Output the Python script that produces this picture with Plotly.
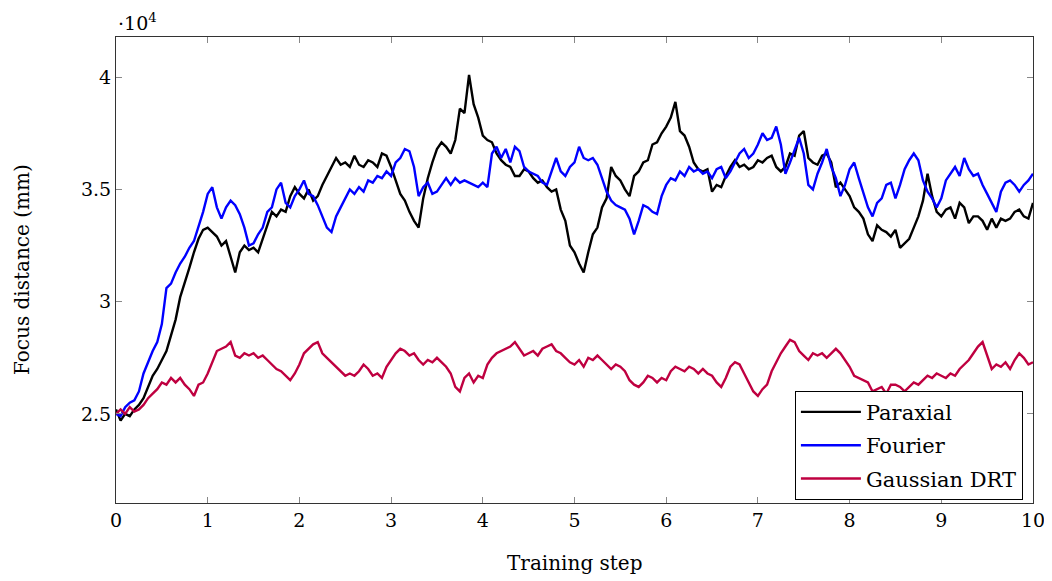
import numpy as np
import plotly.graph_objects as go

steps = [round(i * 0.05, 2) for i in range(201)]

paraxial = [2.52,2.47,2.50,2.49,2.52,2.54,2.57,2.62,2.67,2.70,2.74,2.78,2.85,2.92,3.02,3.08,3.15,3.22,3.28,3.32,
            3.33,3.31,3.29,3.25,3.27,3.20,3.13,3.22,3.25,3.23,3.24,3.22,3.28,3.33,3.40,3.38,3.41,3.40,3.47,3.51,
            3.48,3.46,3.50,3.45,3.47,3.52,3.56,3.60,3.64,3.61,3.62,3.60,3.65,3.61,3.60,3.63,3.62,3.60,3.66,3.65,
            3.60,3.54,3.48,3.45,3.40,3.36,3.33,3.46,3.55,3.62,3.68,3.71,3.69,3.66,3.72,3.86,3.84,4.01,3.88,3.82,
            3.74,3.72,3.71,3.66,3.63,3.61,3.60,3.56,3.56,3.59,3.58,3.55,3.53,3.54,3.51,3.49,3.50,3.41,3.36,3.25,
            3.22,3.17,3.13,3.22,3.30,3.33,3.42,3.46,3.60,3.56,3.54,3.50,3.47,3.56,3.58,3.62,3.63,3.70,3.71,3.75,
            3.78,3.82,3.89,3.76,3.74,3.69,3.62,3.59,3.58,3.59,3.49,3.52,3.51,3.56,3.60,3.63,3.60,3.61,3.59,3.60,
            3.63,3.62,3.64,3.65,3.60,3.58,3.60,3.66,3.65,3.74,3.76,3.64,3.62,3.61,3.65,3.66,3.62,3.51,3.53,3.50,
            3.47,3.42,3.40,3.37,3.30,3.27,3.34,3.32,3.31,3.29,3.32,3.24,3.26,3.28,3.33,3.38,3.45,3.57,3.47,3.40,
            3.38,3.41,3.42,3.37,3.44,3.42,3.35,3.38,3.38,3.36,3.32,3.37,3.33,3.37,3.36,3.37,3.40,3.41,3.38,3.37,
            3.44]

fourier = [2.50,2.49,2.53,2.55,2.56,2.60,2.68,2.73,2.78,2.82,2.90,3.06,3.08,3.13,3.17,3.20,3.24,3.27,3.33,3.40,
           3.48,3.51,3.42,3.37,3.42,3.45,3.43,3.39,3.33,3.25,3.26,3.30,3.33,3.40,3.42,3.50,3.53,3.44,3.42,3.47,
           3.50,3.54,3.48,3.47,3.43,3.38,3.33,3.31,3.38,3.42,3.46,3.50,3.48,3.51,3.49,3.54,3.53,3.56,3.55,3.58,
           3.56,3.62,3.64,3.68,3.67,3.60,3.47,3.51,3.53,3.48,3.49,3.52,3.55,3.52,3.55,3.53,3.54,3.53,3.52,3.51,
           3.53,3.51,3.66,3.69,3.64,3.68,3.62,3.69,3.67,3.60,3.58,3.57,3.56,3.53,3.52,3.58,3.64,3.58,3.56,3.60,
           3.62,3.69,3.64,3.63,3.64,3.61,3.55,3.49,3.45,3.43,3.42,3.41,3.37,3.30,3.36,3.43,3.42,3.40,3.39,3.47,
           3.52,3.55,3.54,3.58,3.56,3.60,3.58,3.59,3.57,3.58,3.55,3.59,3.60,3.55,3.58,3.62,3.66,3.68,3.64,3.66,
           3.70,3.75,3.72,3.73,3.78,3.70,3.57,3.62,3.68,3.73,3.66,3.52,3.50,3.57,3.62,3.68,3.60,3.55,3.47,3.52,
           3.59,3.62,3.55,3.49,3.42,3.38,3.44,3.46,3.52,3.53,3.46,3.52,3.59,3.63,3.66,3.63,3.54,3.49,3.46,3.42,
           3.46,3.54,3.57,3.60,3.56,3.64,3.59,3.56,3.57,3.52,3.48,3.44,3.40,3.49,3.53,3.54,3.52,3.49,3.52,3.54,
           3.57]

gaussian_drt = [2.50,2.52,2.50,2.53,2.51,2.52,2.54,2.57,2.59,2.61,2.64,2.63,2.66,2.64,2.66,2.63,2.61,2.58,2.63,2.64,
                2.68,2.73,2.78,2.79,2.80,2.82,2.76,2.75,2.77,2.76,2.77,2.75,2.76,2.74,2.72,2.70,2.69,2.67,2.65,2.68,
                2.72,2.77,2.79,2.81,2.82,2.77,2.75,2.73,2.71,2.69,2.67,2.68,2.67,2.69,2.72,2.70,2.67,2.68,2.66,2.71,
                2.74,2.77,2.79,2.78,2.76,2.77,2.74,2.72,2.74,2.73,2.75,2.73,2.71,2.68,2.62,2.60,2.66,2.68,2.64,2.67,
                2.66,2.72,2.75,2.77,2.78,2.79,2.80,2.82,2.79,2.76,2.77,2.78,2.76,2.79,2.80,2.81,2.78,2.77,2.75,2.73,
                2.72,2.74,2.71,2.75,2.74,2.76,2.74,2.72,2.70,2.72,2.71,2.69,2.65,2.63,2.62,2.64,2.67,2.66,2.64,2.66,
                2.65,2.69,2.71,2.70,2.69,2.71,2.70,2.68,2.70,2.68,2.67,2.64,2.62,2.66,2.71,2.73,2.72,2.68,2.64,2.60,
                2.58,2.61,2.63,2.69,2.73,2.77,2.80,2.83,2.82,2.78,2.76,2.74,2.77,2.76,2.77,2.75,2.77,2.79,2.77,2.74,
                2.71,2.67,2.66,2.65,2.64,2.60,2.61,2.62,2.59,2.63,2.63,2.62,2.60,2.62,2.64,2.63,2.65,2.67,2.66,2.68,
                2.67,2.66,2.68,2.67,2.70,2.72,2.74,2.77,2.80,2.82,2.76,2.70,2.72,2.71,2.73,2.70,2.74,2.77,2.75,2.72,
                2.73]

scale = 1e4
y_tick_vals = [2.5, 3.0, 3.5, 4.0]
y_tick_text = ["2.5", "3", "3.5", "4"]
x_tick_vals = list(range(11))

series = [("Paraxial", paraxial, "#000000"),
          ("Fourier", fourier, "#0000ff"),
          ("Gaussian DRT", gaussian_drt, "#bf0040")]

fig = go.Figure()
for name, vals, col in series:
    fig.add_trace(go.Scatter(x=steps, y=[v * scale for v in vals], mode="lines", name=name,
                             legendgroup=name,
                             line=dict(color=col, width=2.4)))

font_family = "DejaVu Serif, Liberation Serif, serif"
# page body has an 8px margin: figure is drawn at (8, 8)
fig.update_layout(
    width=1044, height=573,
    margin=dict(l=108, r=19, t=29, b=78, autoexpand=False),
    paper_bgcolor="white", plot_bgcolor="white",
    font=dict(family=font_family, size=19, color="black"),
    showlegend=True,
    legend=dict(x=0.989, y=0.007, xanchor="right", yanchor="bottom",
                bordercolor="black", borderwidth=1, bgcolor="white",
                font=dict(size=21, family=font_family), itemwidth=60,
                tracegroupgap=3),
)
fig.update_xaxes(range=[0, 10], tickvals=x_tick_vals, ticks="inside", ticklen=6,
                 tickcolor="#888888", showline=True, linecolor="#333333", linewidth=1,
                 mirror="ticks", showgrid=False, zeroline=False, automargin=False,
                 tickfont=dict(size=19, family=font_family))
fig.update_yaxes(range=[21030, 41790], tickvals=[v * scale for v in y_tick_vals],
                 ticktext=y_tick_text, ticks="inside", ticklen=6,
                 tickcolor="#888888", showline=True, linecolor="#333333", linewidth=1,
                 mirror="ticks", showgrid=False, zeroline=False, automargin=False,
                 tickfont=dict(size=19, family=font_family))
fig.add_annotation(text="·10<sup>4</sup>", xref="paper", yref="paper", x=0.0, y=1.0,
                   xanchor="left", yanchor="bottom", showarrow=False, yshift=1,
                   font=dict(size=19, family=font_family))
fig.add_annotation(text="Training step", xref="paper", yref="paper", x=0.5, y=0,
                   xanchor="center", yanchor="middle", yshift=-60, showarrow=False,
                   font=dict(size=20, family=font_family))
fig.add_annotation(text="Focus distance (mm)", xref="paper", yref="paper", x=0, y=0.5,
                   xanchor="center", yanchor="middle", xshift=-94, textangle=-90, showarrow=False,
                   font=dict(size=20, family=font_family))

fig.write_html("out.html")
